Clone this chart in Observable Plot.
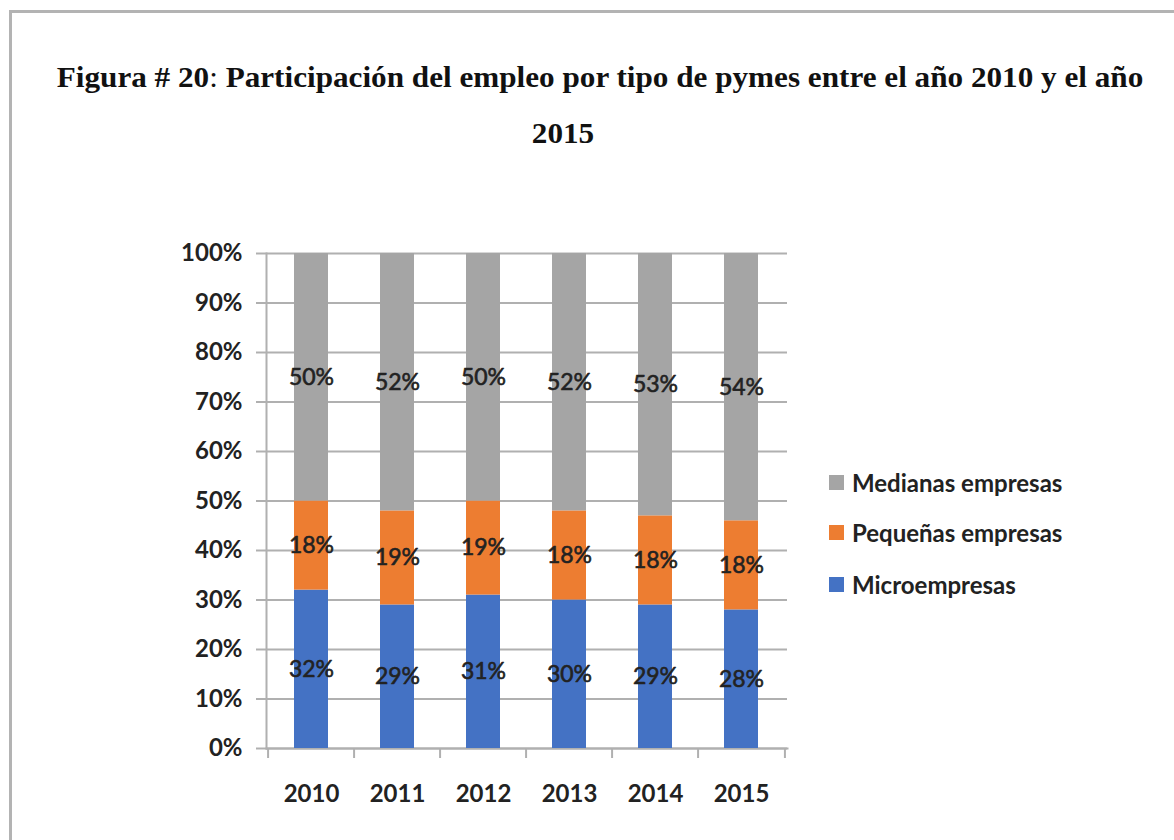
<!DOCTYPE html>
<html>
<head>
<meta charset="utf-8">
<script src="https://cdn.jsdelivr.net/npm/d3@7"></script>
<script src="https://cdn.jsdelivr.net/npm/@observablehq/plot@0.6"></script>
<style>
  html, body { margin: 0; padding: 0; background: #fff; overflow: hidden; width: 1174px; height: 840px; }
  #frame { position: absolute; left: 9px; top: 10px; width: 1300px; height: 1000px; border: 3px solid #b3b3b3; box-sizing: border-box; z-index: 3; pointer-events: none; }
  .t { position: absolute; left: 0; text-align: center; font-family: "Liberation Serif", "Times New Roman", serif; font-weight: bold; font-size: 29px; color: #111; white-space: nowrap; line-height: 30px; transform: scaleX(1.075); transform-origin: 50% 50%; }
  #chart { position: absolute; left: 0; top: 200px; }
  #legend { position: absolute; left: 829px; top: 0; font-family: Lato, sans-serif; font-weight: bold; font-size: 24px; color: #222; }
  .li { position: absolute; left: 0; white-space: nowrap; display: flex; align-items: center; height: 30px; }
  .sw { width: 15px; height: 15px; margin-right: 8px; }
</style>
</head>
<body>
<div id="frame"></div>
<div class="t" id="t1" style="top:62px; width:1200px;">Figura # 20<span style="font-weight:normal">:</span> Participación del empleo por tipo de pymes entre el año 2010 y el año</div>
<div class="t" id="t2" style="top:118px; width:1126px;">2015</div>
<div id="chart"></div>
<div id="legend"></div>
<script>
const years = ["2010", "2011", "2012", "2013", "2014", "2015"];
const micro = [32, 29, 31, 30, 29, 28];
const pequenas = [18, 19, 19, 18, 18, 18];
const medianas = [50, 52, 50, 52, 53, 54];
const seriesNames = ["Microempresas", "Pequeñas empresas", "Medianas empresas"];
const seriesColors = ["#4472C4", "#ED7D31", "#A5A5A5"];
const yTicks = [0, 10, 20, 30, 40, 50, 60, 70, 80, 90, 100];

const seriesValues = [micro, pequenas, medianas];
const data = years.flatMap((yr, i) => seriesNames.map((s, k) => ({year: yr, serie: s, value: seriesValues[k][i]})));

const W = 1174, H = 640, mL = 266, mR = 387, mT = 53, mB = 92;
const bw = (W - mL - mR) / years.length;
const gridColor = "#b0b0b0";

const chart = Plot.plot({
  width: W, height: H,
  marginLeft: mL, marginRight: mR, marginTop: mT, marginBottom: mB,
  style: {background: "transparent", fontFamily: "Lato, sans-serif", color: "#222"},
  x: {domain: years, paddingInner: 0.6, paddingOuter: 0.3, align: 0.5},
  y: {domain: [0, 100]},
  color: {domain: seriesNames, range: seriesColors},
  marks: [
    Plot.gridY(yTicks, {stroke: gridColor, strokeOpacity: 1, strokeWidth: 2}),
    Plot.axisY({ticks: yTicks, tickFormat: d => d + "%", tickSize: 10, tickPadding: 14, stroke: gridColor, strokeWidth: 2, fill: "#222", fontSize: 24, fontWeight: "bold", label: null}),
    Plot.frame({anchor: "left", stroke: gridColor, strokeWidth: 2}),
    Plot.frame({anchor: "bottom", stroke: gridColor, strokeWidth: 2}),
    Plot.axisX({ticks: years, tickFormat: () => "", tickSize: 10, dx: -bw / 2, stroke: gridColor, strokeWidth: 2, label: null}),
    Plot.axisX({ticks: [years[years.length - 1]], tickFormat: () => "", tickSize: 10, dx: bw / 2, stroke: gridColor, strokeWidth: 2, label: null}),
    Plot.axisX({ticks: years, tickSize: 0, tickPadding: 36, fill: "#222", fontSize: 24, fontWeight: "bold", label: null}),
    Plot.barY(data, {x: "year", y: "value", fill: "serie", order: seriesNames}),
    Plot.text(data, Plot.stackY({x: "year", y: "value", z: "serie", order: seriesNames, text: d => d.value + "%", fill: "#222", stroke: "#222", strokeWidth: 0.6, fontSize: 23}))
  ]
});
document.getElementById("chart").appendChild(chart);

const legend = document.getElementById("legend");
const rowsTop = [467, 517, 569];
[2, 1, 0].forEach((k, r) => {
  const row = document.createElement("div");
  row.className = "li";
  row.style.top = rowsTop[r] + "px";
  const sw = document.createElement("div");
  sw.className = "sw";
  sw.style.background = seriesColors[k];
  const tx = document.createElement("span");
  tx.textContent = seriesNames[k];
  row.appendChild(sw);
  row.appendChild(tx);
  legend.appendChild(row);
});
</script>
</body>
</html>
